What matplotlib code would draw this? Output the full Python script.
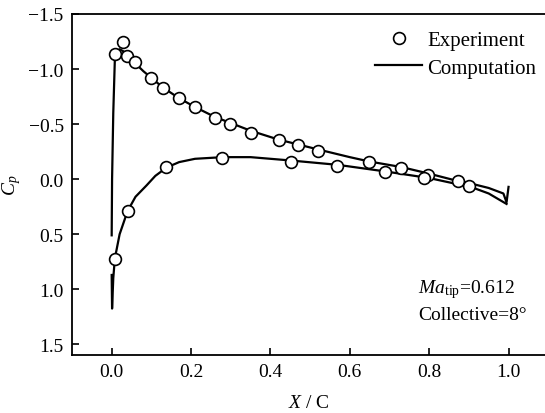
import matplotlib
matplotlib.use('Agg')
import matplotlib.pyplot as plt

plt.rcParams['font.family'] = ['Liberation Serif', 'DejaVu Serif']
plt.rcParams['mathtext.fontset'] = 'custom'
plt.rcParams['mathtext.rm'] = 'Liberation Serif'
plt.rcParams['mathtext.it'] = 'Liberation Serif:italic'

# Experimento - superficie superior
x_exp_sup = [0.008, 0.029, 0.039, 0.06, 0.098, 0.129, 0.169, 0.209, 0.26, 0.298,
             0.35, 0.422, 0.47, 0.52, 0.648, 0.729, 0.798, 0.873, 0.90]
cp_exp_sup = [-1.135, -1.246, -1.12, -1.06, -0.92, -0.83, -0.736, -0.652, -0.552, -0.50,
              -0.422, -0.356, -0.313, -0.26, -0.154, -0.102, -0.042, 0.02, 0.058]

# Experimento - superficie inferior
x_exp_inf = [0.008, 0.04, 0.138, 0.279, 0.451, 0.569, 0.689, 0.787]
cp_exp_inf = [0.725, 0.293, -0.108, -0.19, -0.16, -0.123, -0.063, -0.012]

# Computación - superficie superior
x_comp_sup = [0.0, 0.001, 0.004, 0.008, 0.012, 0.02, 0.03, 0.04, 0.06, 0.08, 0.10,
              0.13, 0.17, 0.21, 0.26, 0.30, 0.35, 0.42, 0.47, 0.52, 0.60, 0.65,
              0.73, 0.80, 0.87, 0.90, 0.95, 0.987, 0.995, 1.0]
cp_comp_sup = [0.51, 0.0, -0.6, -1.09, -1.15, -1.18, -1.16, -1.12, -1.05, -0.98, -0.92,
               -0.83, -0.735, -0.655, -0.565, -0.51, -0.44, -0.36, -0.315, -0.27, -0.20, -0.16,
               -0.11, -0.05, 0.015, 0.035, 0.08, 0.13, 0.21, 0.07]

# Computación - superficie inferior
x_comp_inf = [0.0, 0.001, 0.004, 0.008, 0.02, 0.04, 0.06, 0.0875, 0.11, 0.138, 0.17,
              0.21, 0.28, 0.35, 0.45, 0.57, 0.69, 0.80, 0.907, 0.95, 0.995]
cp_comp_inf = [0.87, 1.175, 0.9, 0.72, 0.5, 0.29, 0.16, 0.058, -0.03, -0.105, -0.155,
               -0.185, -0.2, -0.2, -0.17, -0.13, -0.07, -0.01, 0.073, 0.13, 0.225]

fig = plt.figure(figsize=(5.45, 4.14), dpi=100)
ax = fig.add_axes([0.1321, 0.1408, 0.868, 0.823])

ax.plot(x_comp_sup, cp_comp_sup, color='black', lw=1.6, label='Computation')
ax.plot(x_comp_inf, cp_comp_inf, color='black', lw=1.6)
ax.plot(x_exp_sup, cp_exp_sup, 'o', color='black', mfc='white', mew=1.2, ms=8.5,
        label='Experiment')
ax.plot(x_exp_inf, cp_exp_inf, 'o', color='black', mfc='white', mew=1.2, ms=8.5)

ax.set_xlim(-0.1, 1.092)
ax.set_ylim(1.594, -1.5)
ax.set_xticks([0.0, 0.2, 0.4, 0.6, 0.8, 1.0])
ax.set_yticks([-1.5, -1.0, -0.5, 0.0, 0.5, 1.0, 1.5])
ax.set_xticklabels(['0.0', '0.2', '0.4', '0.6', '0.8', '1.0'])
ax.set_yticklabels(['\u22121.5', '\u22121.0', '\u22120.5', '0.0', '0.5', '1.0', '1.5'])
ax.tick_params(direction='in', length=5, width=1.2, labelsize=14, pad=6)
ax.spines['right'].set_visible(False)
for s in ['left', 'bottom', 'top']:
    ax.spines[s].set_linewidth(1.3)

ax.set_xlabel(r'$X$ / C', fontsize=14, labelpad=10)
ax.set_ylabel(r'$C_p$', fontsize=14, labelpad=4)

h, l = ax.get_legend_handles_labels()
ax.legend([h[1], h[0]], [l[1], l[0]], loc='upper right', frameon=False, fontsize=15,
          handlelength=2.25, handletextpad=0.25, labelspacing=0.4, borderaxespad=0.3,
          bbox_to_anchor=(1.012, 0.995))

ax.text(0.731, 0.193, r'$Ma_{\rm tip}$=0.612', transform=ax.transAxes, fontsize=14,
        va='center', ha='left')
ax.text(0.731, 0.119, 'Collective=8\u00b0', transform=ax.transAxes, fontsize=14,
        va='center', ha='left')

fig.savefig('out.png', dpi=100)
